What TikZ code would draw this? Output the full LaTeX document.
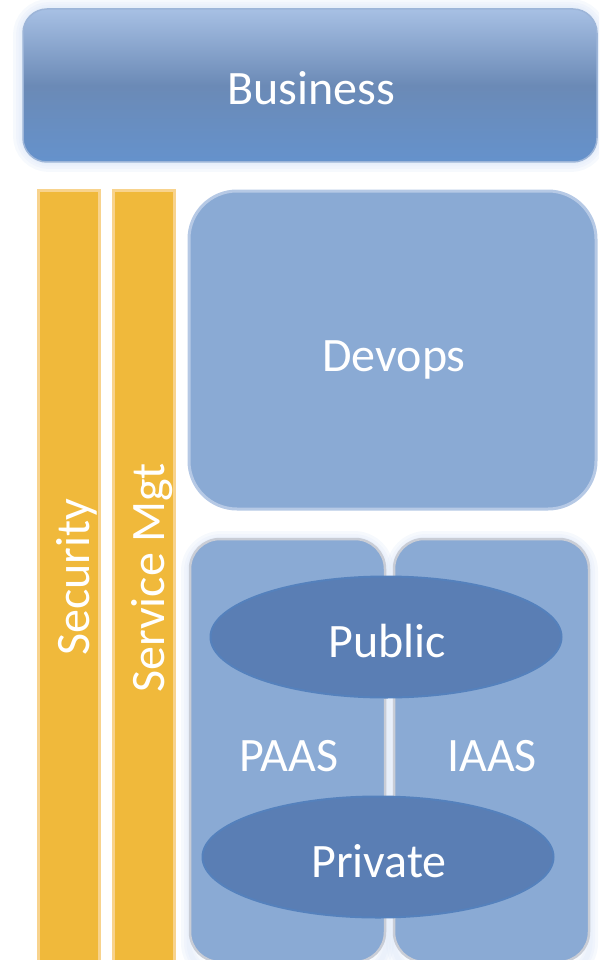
\documentclass[tikz,border=0pt]{standalone}
\usetikzlibrary{shapes.geometric}
\usepackage{fontspec}
\setmainfont{Carlito}
\definecolor{bartop}{HTML}{A7C0E4}
\definecolor{barmid}{HTML}{6B8AB6}
\definecolor{barbot}{HTML}{6592CC}
\definecolor{bizedge}{HTML}{9DB5D8}
\definecolor{glowc}{HTML}{DCE7F8}
\definecolor{panel}{HTML}{8AAAD4}
\definecolor{paneledge}{HTML}{B6C9E5}
\definecolor{greyedge}{HTML}{C9CDD6}
\definecolor{gold}{HTML}{F0B93B}
\definecolor{goldedge}{HTML}{F8D38D}
\definecolor{oval}{HTML}{5A7EB4}
\definecolor{ovaledge}{HTML}{5581BC}
\begin{document}
\begin{tikzpicture}[x=1pt,y=-1pt,
  lbl/.style={text=white,font=\fontsize{48}{52}\selectfont,inner sep=0pt},
  goldbar/.style={draw=goldedge,fill=gold,line width=3pt,minimum width=61pt,minimum height=790pt,inner sep=0pt},
  pillar/.style={draw=greyedge,fill=panel,line width=2.5pt,rounded corners=30pt,minimum width=195pt,minimum height=423pt,inner sep=0pt},
  cloud/.style={ellipse,draw=ovaledge,fill=oval,line width=2pt,minimum width=351pt,minimum height=121pt,inner sep=0pt},
  glowa/.style={glowc,opacity=0.25,rounded corners=#1}]
\useasboundingbox (0,0) rectangle (599,960);
\clip (0,0) rectangle (599,960);
% soft glow behind business
\foreach \w in {20,14,9,5}{
  \draw[glowa=26pt,line width=\w pt] (23,9) rectangle (597,162);
}
\node[draw=bizedge,line width=1.5pt,rounded corners=24pt,top color=bartop,bottom color=barbot,middle color=barmid,
      minimum width=574pt,minimum height=153pt,inner sep=0pt] (business) at (310,85.5) {};
\node[lbl,anchor=base] (businesst) at (311,105) {Business};
% gold bars
\node[goldbar] (security) at (68.5,585) {};
\node[goldbar] (svc) at (144,585) {};
\node[lbl,rotate=90,anchor=base] (securityt) at (89,577) {Security};
\node[lbl,rotate=90,anchor=base] (svct) at (164,578) {Service Mgt};
% devops
\node[draw=paneledge,fill=panel,line width=3pt,rounded corners=48pt,minimum width=407pt,minimum height=318pt,inner sep=0pt] (devops) at (392.5,350) {};
\node[lbl,anchor=base] (devopst) at (394,371) {Devops};
% soft glow behind pillars
\foreach \w in {16,10,5}{
  \draw[glowa=32pt,line width=\w pt] (189,539) rectangle (386,975);
  \draw[glowa=32pt,line width=\w pt] (394,539) rectangle (590,975);
}
\node[pillar] (paas) at (287.5,750.5) {};
\node[pillar] (iaas) at (491.5,750.5) {};
\node[lbl,anchor=base] (paast) at (289,771) {PAAS};
\node[lbl,anchor=base] (iaast) at (492,771) {IAAS};
% clouds
\node[cloud] (public) at (386,637) {};
\node[lbl,anchor=base] (publict) at (387,657) {Public};
\node[cloud] (private) at (378,857) {};
\node[lbl,anchor=base] (privatet) at (379,877) {Private};
\end{tikzpicture}
\end{document}
